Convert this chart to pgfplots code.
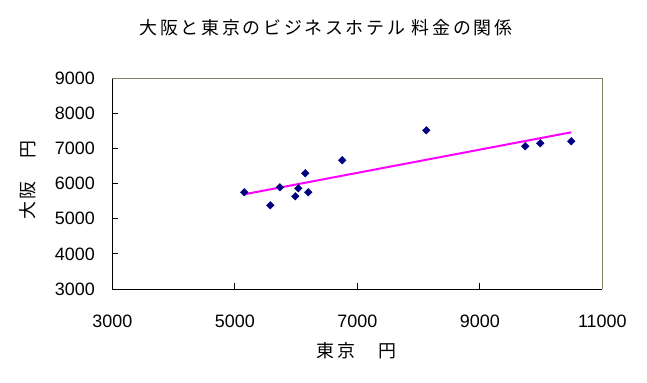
\documentclass[border=0pt]{standalone}
\usepackage{pgfplots}
\pgfplotsset{compat=1.18}
\usepackage{fontspec}
\setmainfont{Liberation Sans}
\newfontfamily\jp[LetterSpace=15]{Noto Sans CJK JP}
\definecolor{navymark}{RGB}{0,0,128}
\definecolor{framegray}{RGB}{128,128,100}
\definecolor{trendmag}{RGB}{255,0,255}
\begin{document}
\begin{tikzpicture}
\useasboundingbox (-112.3bp,-94bp) rectangle (534.7bp,289bp);
\begin{axis}[
  at={(0,0)}, anchor=south west,
  scale only axis,
  width=490bp, height=210.7bp,
  xmin=3000, xmax=11000, ymin=3000, ymax=9000,
  xtick={3000,5000,7000,9000,11000},
  ytick={3000,4000,5000,6000,7000,8000,9000},
  scaled x ticks=false, scaled y ticks=false,
  axis x line*=bottom, axis y line*=left,
  axis line style={-, black, line width=0.9bp},
  tick align=inside,
  major tick length=6bp,
  tick style={black, line width=0.9bp},
  /pgf/number format/assume math mode=true,
  /pgf/number format/1000 sep={},
  ticklabel style={font=\fontsize{18}{20}\selectfont},
  yticklabel style={xshift=-14bp},
  xticklabel style={yshift=-22bp},
  clip=false,
]
\draw[color=framegray, line width=0.8bp] (rel axis cs:0,1) -- (rel axis cs:1,1) -- (rel axis cs:1,0);
\addplot[color=trendmag, line width=2bp] coordinates {(5155,5697) (10494,7463)};
\addplot[only marks, mark=square*, mark size=2.7bp, mark options={rotate=45}, color=navymark, fill=navymark] coordinates {
(5155,5754) (5580,5384) (5737,5896) (5988,5640) (6037,5868) (6151,6295) (6200,5754) (6755,6666) (8127,7520) (9743,7065) (9988,7150) (10494,7207)
};
\end{axis}
\node at (213.7bp,261.5bp) {\jp\fontsize{18}{20}\selectfont 大阪と東京のビジネスホテル 料金の関係};
\node at (244.2bp,-62bp) {\jp\fontsize{18}{20}\selectfont 東京　円};
\node[rotate=90] at (-84.3bp,109bp) {\jp\fontsize{18}{20}\selectfont 大阪　円};
\end{tikzpicture}
\end{document}
